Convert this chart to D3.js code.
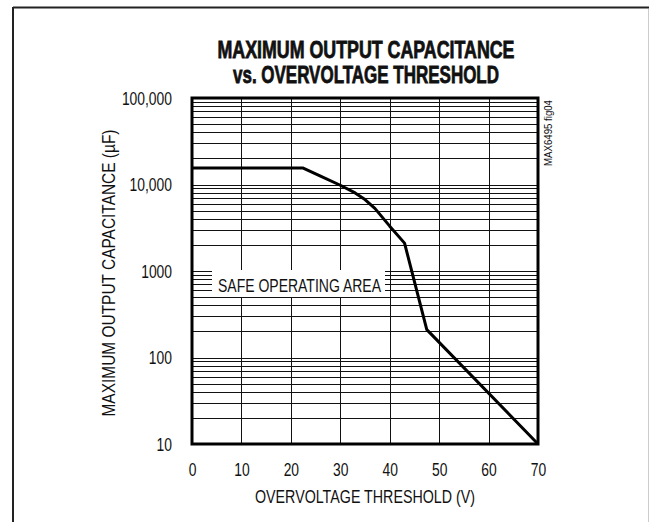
<!DOCTYPE html>
<html>
<head>
<meta charset="utf-8">
<script src="https://cdn.jsdelivr.net/npm/d3@7"></script>
<style>
	body { margin: 0; background: #fff; }
	text { font-family: "Liberation Sans", Arial, sans-serif; fill: #111; }
</style>
</head>
<body>
<svg width="649" height="522"></svg>
<script>
// curve
const voltage = [0, 22.5, 26, 30, 33, 35, 37, 40, 43, 47.5, 70];
const capacitance = [15500, 15500, 12500, 9800, 8000, 6700, 5300, 3300, 2100, 210, 10];

const xTicks = [0, 10, 20, 30, 40, 50, 60, 70];
const yTicks = [10, 100, 1000, 10000, 100000];
const yTickLabels = ["10", "100", "1000", "10,000", "100,000"];

const plot = { l: 192, r: 538, t: 98, b: 444 };
const svg = d3.select("svg");

// squeeze text horizontally to look like a condensed face
function narrow(sel, k) {
	sel.each(function () {
		let w = this.getComputedTextLength();
		d3.select(this).attr("textLength", w * k).attr("lengthAdjust", "spacingAndGlyphs");
	});
}

// outer frame (only left/top visible, faint right edge)
svg.append("line").attr("x1", 13).attr("y1", 7.5).attr("x2", 649).attr("y2", 7.5)
	.attr("stroke", "#222").attr("stroke-width", 2);
svg.append("line").attr("x1", 13).attr("y1", 7).attr("x2", 13).attr("y2", 522)
	.attr("stroke", "#222").attr("stroke-width", 2);
svg.append("line").attr("x1", 648.5).attr("y1", 9).attr("x2", 648.5).attr("y2", 522)
	.attr("stroke", "#ccc").attr("stroke-width", 1);

const scaleX = d3.scaleLinear().domain([0, 70]).range([plot.l, plot.r]);
const scaleY = d3.scaleLog().domain([10, 100000]).range([plot.b, plot.t]);

// grid
const gridG = svg.append("g");
let minor = [];
for (let k = 1; k <= 4; k++) {
	for (let m = 1; m <= 9; m++) minor.push(m * 10 ** k);
}
gridG.selectAll(".h")
	.data(minor)
	.join("line")
	.attr("x1", plot.l).attr("x2", plot.r)
	.attr("y1", (d) => Math.round(scaleY(d)) + 0.5)
	.attr("y2", (d) => Math.round(scaleY(d)) + 0.5)
	.attr("stroke", "#111").attr("stroke-width", 1);
gridG.selectAll(".v")
	.data(xTicks)
	.join("line")
	.attr("x1", (d) => Math.round(scaleX(d)) + 0.5)
	.attr("x2", (d) => Math.round(scaleX(d)) + 0.5)
	.attr("y1", plot.t).attr("y2", plot.b)
	.attr("stroke", "#111").attr("stroke-width", 1);

// label box
svg.append("rect").attr("x", 212).attr("y", 270).attr("width", 173).attr("height", 27).attr("fill", "#fff");
svg.append("text").attr("x", 218).attr("y", 292)
	.attr("font-size", 18).attr("textLength", 163).attr("lengthAdjust", "spacingAndGlyphs")
	.text("SAFE OPERATING AREA");

// curve
svg.append("path")
	.datum(voltage.map((v, i) => [v, capacitance[i]]))
	.attr("d", d3.line().x((d) => scaleX(d[0])).y((d) => scaleY(d[1])))
	.attr("fill", "none").attr("stroke", "#000").attr("stroke-width", 3)
	.attr("stroke-linejoin", "round");

// frame of plot
svg.append("rect").attr("x", plot.l).attr("y", plot.t)
	.attr("width", plot.r - plot.l).attr("height", plot.b - plot.t)
	.attr("fill", "none").attr("stroke", "#000").attr("stroke-width", 3);

// axes
const axisX = d3.axisBottom(scaleX).tickValues(xTicks).tickSize(0).tickPadding(0);
const axisXG = svg.append("g").attr("transform", `translate(0, ${plot.b})`).call(axisX);
axisXG.select(".domain").remove();
axisXG.selectAll("text").attr("y", 32).attr("dy", 0)
	.attr("font-size", 18).attr("font-family", null).attr("fill", null)
	.call(narrow, 0.77);

const axisY = d3.axisLeft(scaleY).tickValues(yTicks).tickSize(0).tickPadding(0)
	.tickFormat((d, i) => yTickLabels[i]);
const axisYG = svg.append("g").attr("transform", `translate(172, 0)`).call(axisY);
axisYG.select(".domain").remove();
axisYG.selectAll("text").attr("x", 0).attr("dy", "0.36em")
	.attr("font-size", 18).attr("font-family", null).attr("fill", null)
	.call(narrow, 0.77);

// titles
svg.append("text").attr("x", 366).attr("y", 58).attr("text-anchor", "middle")
	.attr("font-size", 24).attr("font-weight", "bold")
	.attr("textLength", 297).attr("lengthAdjust", "spacingAndGlyphs")
	.style("stroke", "#111").style("stroke-width", 0.8)
	.text("MAXIMUM OUTPUT CAPACITANCE");
svg.append("text").attr("x", 366).attr("y", 83).attr("text-anchor", "middle")
	.attr("font-size", 24).attr("font-weight", "bold")
	.attr("textLength", 266).attr("lengthAdjust", "spacingAndGlyphs")
	.style("stroke", "#111").style("stroke-width", 0.8)
	.text("vs. OVERVOLTAGE THRESHOLD");

svg.append("text").attr("x", 365).attr("y", 503).attr("text-anchor", "middle")
	.attr("font-size", 17.5).attr("textLength", 220).attr("lengthAdjust", "spacingAndGlyphs")
	.text("OVERVOLTAGE THRESHOLD (V)");

svg.append("text").attr("transform", "translate(115, 273) rotate(-90)")
	.attr("text-anchor", "middle").attr("font-size", 17.5)
	.attr("textLength", 287).attr("lengthAdjust", "spacingAndGlyphs")
	.text("MAXIMUM OUTPUT CAPACITANCE (µF)");

svg.append("text").attr("transform", "translate(552, 100) rotate(-90)")
	.attr("text-anchor", "end").attr("font-size", 10.5)
	.attr("textLength", 66).attr("lengthAdjust", "spacingAndGlyphs")
	.text("MAX6495 fig04");
</script>
</body>
</html>
